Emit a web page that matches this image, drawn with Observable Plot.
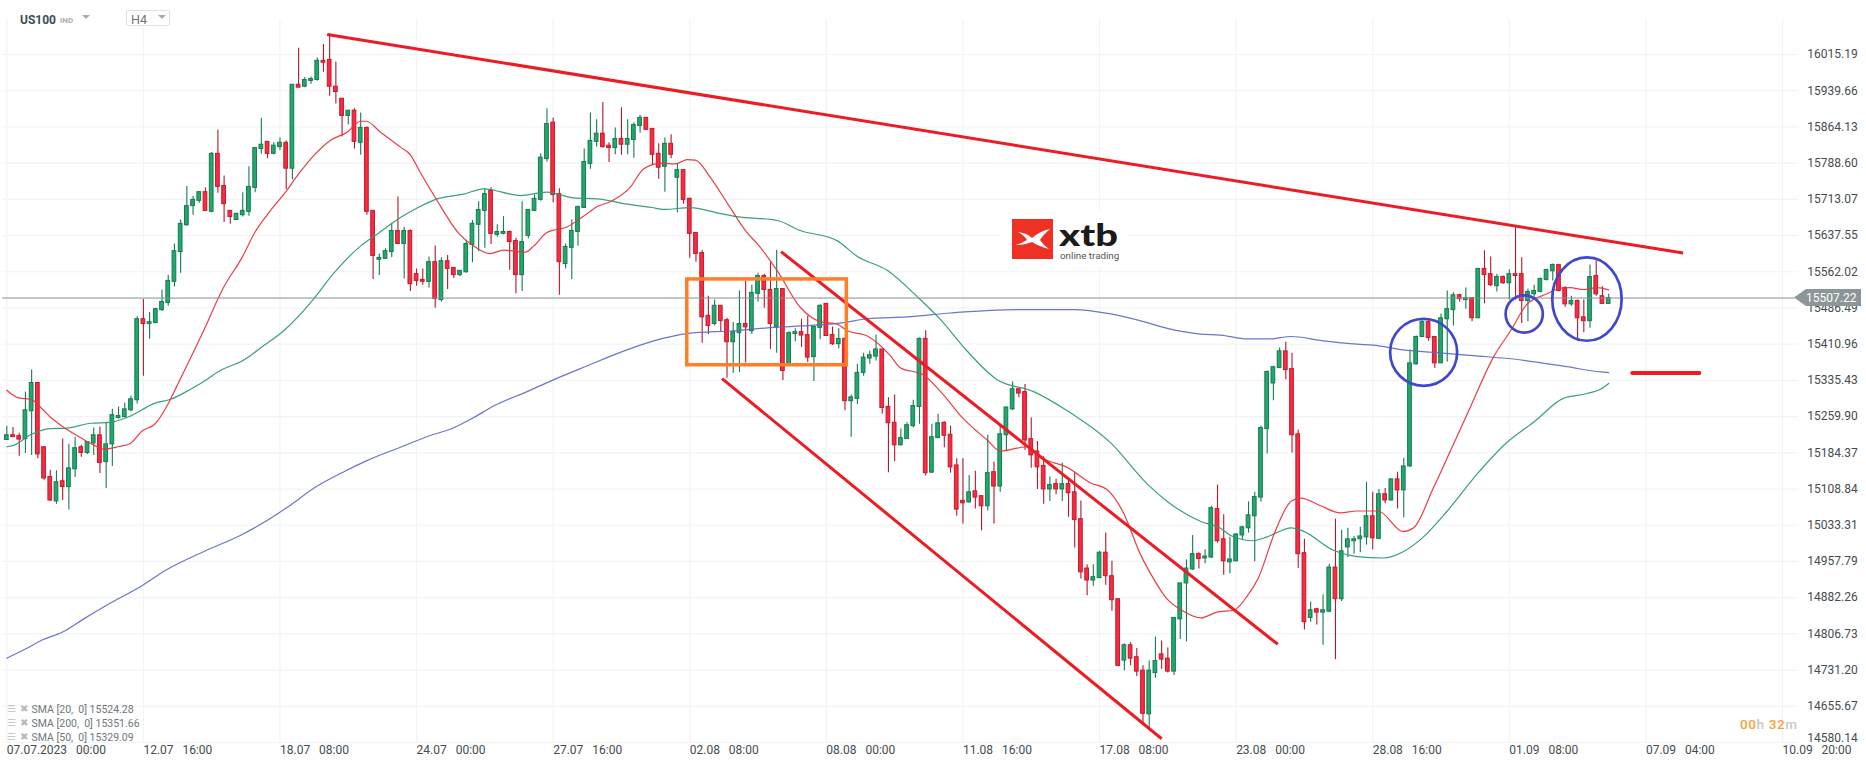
<!DOCTYPE html>
<html><head><meta charset="utf-8">
<script src="https://cdn.jsdelivr.net/npm/d3@7"></script>
<script src="https://cdn.jsdelivr.net/npm/@observablehq/plot@0.6"></script>
<style>html,body{margin:0;padding:0;background:#fff;overflow:hidden}svg{display:block}</style>
</head><body><div id="chart"></div>
<script>
const open=[15211,15221,15219,15213,15271,15330,15196,15134,15083,15125,
15113,15150,15196,15184,15204,15221,15165,15202,15257,15259,
15273,15294,15463,15453,15455,15482,15497,15541,15603,15659,
15699,15710,15728,15687,15808,15741,15689,15670,15680,15687,
15737,15818,15833,15808,15822,15831,15777,15952,15948,15960,
15962,16002,16004,15948,15923,15887,15898,15831,15862,15689,
15587,15589,15603,15647,15620,15647,15557,15545,15541,15582,
15503,15584,15570,15555,15561,15618,15660,15689,15731,15639,
15641,15645,15626,15555,15637,15689,15712,15797,15873,15724,
15578,15612,15645,15695,15787,15833,15850,15825,15820,15839,
15827,15837,15866,15883,15860,15808,15781,15829,15758,15774,
15714,15643,15601,15470,15453,15491,15461,15415,15434,15453,
15438,15516,15553,15524,15447,15526,15368,15432,15436,15430,
15384,15445,15495,15430,15411,15422,15292,15297,15351,15381,
15385,15400,15280,15247,15200,15213,15240,15280,15422,15143,
15215,15247,15222,15158,15084,15081,15104,15094,15073,15144,
15114,15221,15275,15317,15311,15213,15187,15157,15108,15119,
15108,15119,15102,15046,14943,14918,14923,14976,14927,14879,
14751,14783,14758,14730,14639,14725,14764,14755,14728,14837,
14912,14941,14973,14964,14966,15067,15004,14956,14958,15012,
15027,15052,15091,15234,15329,15361,15396,15359,15223,14975,
14840,14858,14851,14853,14945,14879,14987,15000,15004,15008,
15052,15005,15098,15085,15129,15106,15156,15369,15426,15457,
15426,15371,15463,15482,15513,15503,15507,15465,15568,15557,
15532,15551,15538,15557,15557,15501,15515,15520,15545,15563,
15576,15528,15494,15501,15467,15459,15553,15511,15495];
const close=[15221,15217,15212,15273,15330,15181,15131,15085,15123,15113,
15152,15194,15184,15207,15221,15163,15202,15263,15261,15275,
15296,15463,15453,15457,15484,15499,15543,15605,15662,15699,
15712,15728,15689,15808,15739,15703,15676,15683,15689,15739,
15820,15827,15808,15825,15831,15777,15952,15946,15962,15964,
16002,15998,15948,15937,15887,15898,15833,15862,15687,15595,
15591,15605,15647,15620,15647,15536,15543,15541,15582,15505,
15584,15568,15555,15564,15620,15662,15691,15724,15641,15645,
15645,15624,15555,15624,15691,15714,15800,15870,15722,15582,
15614,15647,15697,15791,15835,15850,15822,15820,15839,15827,
15839,15868,15883,15858,15806,15779,15829,15806,15774,15712,
15641,15599,15467,15449,15491,15459,15415,15436,15453,15446,
15518,15553,15524,15453,15526,15355,15434,15436,15429,15383,
15447,15491,15428,15411,15422,15292,15300,15351,15383,15388,
15400,15278,15246,15200,15215,15242,15282,15422,15142,15217,
15246,15220,15154,15066,15079,15102,15091,15073,15142,15114,
15223,15279,15317,15308,15210,15179,15154,15108,15117,15108,
15119,15100,15044,14935,14918,14925,14976,14927,14877,14740,
14783,14755,14728,14640,14730,14750,14753,14728,14840,14912,
14943,14973,14963,14968,15069,15000,14958,14962,15014,15029,
15054,15092,15236,15353,15363,15396,15357,15221,14973,14831,
14856,14851,14856,14945,14879,14979,15004,15004,15010,15052,
15006,15098,15085,15129,15106,15156,15371,15426,15457,15424,
15371,15465,15484,15513,15505,15507,15465,15568,15555,15534,
15551,15538,15557,15553,15501,15520,15522,15547,15566,15576,
15522,15494,15501,15465,15459,15551,15515,15495,15507.22];
const high=[15240,15237,15225,15311,15357,15330,15196,15148,15147,15213,
15202,15217,15200,15208,15236,15238,15248,15275,15280,15288,
15303,15468,15504,15477,15486,15524,15555,15620,15670,15740,
15719,15729,15737,15811,15857,15762,15689,15683,15727,15781,
15820,15882,15833,15831,15841,15835,15952,16028,15967,15968,
16008,16036,16058,15999,15923,15898,15902,15893,15864,15689,
15599,15610,15663,15718,15655,15649,15568,15568,15593,15616,
15591,15596,15570,15564,15628,15669,15708,15735,15737,15660,
15677,15647,15632,15708,15691,15722,15808,15902,15883,15735,
15620,15670,15699,15818,15893,15879,15915,15831,15862,15904,
15879,15873,15888,15883,15860,15829,15841,15848,15787,15774,
15716,15643,15607,15511,15503,15491,15465,15456,15522,15543,
15534,15559,15557,15581,15607,15526,15437,15443,15463,15470,
15447,15493,15495,15447,15443,15425,15305,15369,15392,15397,
15430,15400,15299,15305,15234,15247,15294,15424,15439,15244,
15265,15249,15240,15172,15172,15137,15146,15094,15221,15165,
15240,15279,15332,15317,15327,15257,15208,15176,15134,15129,
15163,15129,15142,15084,14951,14951,14979,15017,14958,14879,
14786,14788,14776,14740,14750,14800,14792,14777,14841,14912,
14961,15012,14976,14982,15073,15117,15055,15008,15016,15031,
15082,15102,15240,15355,15365,15403,15415,15392,15232,15004,
14873,14860,14888,14952,15046,15023,15027,15010,15029,15123,
15102,15108,15110,15129,15144,15173,15399,15428,15460,15461,
15426,15474,15522,15518,15515,15528,15507,15568,15606,15593,
15557,15553,15566,15656,15591,15526,15534,15549,15566,15578,
15576,15531,15511,15503,15503,15576,15584,15531,15515];
const low=[15211,15217,15177,15183,15179,15172,15127,15083,15077,15085,
15065,15133,15175,15181,15179,15141,15110,15156,15255,15257,
15270,15286,15344,15421,15454,15479,15490,15530,15559,15657,
15680,15705,15689,15685,15726,15665,15661,15669,15676,15678,
15727,15807,15798,15806,15815,15733,15754,15946,15946,15953,
15960,15978,15928,15912,15843,15868,15818,15805,15680,15546,
15554,15588,15592,15620,15547,15521,15532,15534,15528,15486,
15499,15525,15548,15552,15559,15581,15604,15611,15619,15634,
15639,15565,15516,15521,15631,15688,15709,15791,15706,15513,
15568,15546,15615,15694,15776,15822,15820,15790,15806,15805,
15806,15799,15851,15857,15785,15755,15728,15798,15685,15703,
15590,15582,15413,15431,15449,15436,15340,15350,15352,15372,
15431,15499,15486,15400,15392,15335,15366,15416,15404,15373,
15333,15420,15427,15408,15401,15272,15217,15285,15344,15369,
15376,15265,15143,15166,15199,15212,15236,15244,15136,15142,
15214,15195,15142,15052,15036,15079,15067,15022,15063,15036,
15102,15188,15272,15299,15189,15152,15108,15077,15083,15097,
15083,15050,14986,14921,14886,14906,14922,14908,14854,14738,
14730,14740,14718,14618,14611,14714,14733,14725,14720,14795,
14790,14939,14942,14953,14964,14996,14929,14932,14957,15002,
15017,14957,15081,15182,15293,15360,15337,15184,14943,14815,
14831,14825,14783,14851,14753,14874,14966,14973,14976,14992,
14982,15003,15078,15084,15067,15049,15154,15367,15425,15417,
15360,15371,15374,15449,15499,15484,15458,15465,15495,15531,
15520,15536,15503,15503,15454,15458,15509,15518,15543,15543,
15520,15488,15490,15417,15435,15444,15511,15494,15494];

const sma20At=[0,1.9,3.9,5.4,7,8.9,11.9,13.8,15.6,17.9,19.9,21.8,23.9,25.8,27.4,31.7,34.9,37.9,39.9,42.5,44.9,47,49.7,52.1,54.8,57,57.9,60.2,63.4,65,66.6,69,72.8,75.5,77.8,80,83.5,84.9,87,90.3,92.7,95.1,97.5,100.4,102.6,105.3,107.7,109.6,110.9,113.3,116.3,119.2,120.9,124.1,127.8,131,133.7,135.4,138.6,142.3,143.9,147.6,150.4,154.1,157.9,160,164.3,167,170.8,174.5,177.2,179.9,182.6,184.2,186.9,189.5,192.3,194.9,197.6,199.8,201.6,204.3,206.9,208.4,211.6,214.8,217.5,220.9,224.9,226.6,229.8,232.5,235.7,239.4,242.2,244.9,248.1,250.2,251.8,253.9,256.1,258];
const sma20=[15315,15299,15296,15280,15259,15240,15216,15202,15192,15197,15204,15230,15245,15282,15324,15439,15529,15592,15643,15690,15728,15766,15808,15836,15853,15876,15876,15853,15822,15806,15769,15717,15642,15613,15600,15607,15603,15616,15644,15656,15676,15698,15710,15738,15777,15788,15787,15796,15795,15759,15700,15644,15620,15564,15488,15458,15453,15439,15428,15387,15362,15347,15312,15255,15211,15188,15197,15172,15154,15122,15108,15058,14972,14933,14879,14854,14840,14852,14856,14886,14924,15021,15084,15090,15074,15059,15063,15063,15020,15028,15112,15188,15279,15383,15439,15495,15516,15528,15529,15525,15529,15524.28];
const sma50At=[0,1.1,3.8,7,9.7,13.5,16.7,19.9,23.7,26.4,29.6,31.2,34.7,37.9,41.4,44.6,49.2,52.6,57,59.7,63.4,66.1,69.3,73.6,76.8,82.7,87,91.3,95.1,99.9,103.9,105.8,110.1,114.4,117.6,124.1,127.8,133.7,137,141.8,146.8,150.4,154.1,159.5,165.4,170.8,177.8,183.7,186.9,192.3,195.5,197.1,200.8,203,206.9,208.8,213.7,217.5,221.7,224.9,228,232,236.8,241.6,245.9,250.7,254.5,256.7,258];
const sma50=[15197,15200,15222,15235,15236,15246,15248,15261,15287,15296,15317,15329,15358,15376,15408,15439,15502,15558,15616,15641,15675,15695,15714,15724,15735,15721,15728,15716,15714,15703,15696,15692,15696,15685,15677,15669,15648,15627,15594,15565,15508,15462,15405,15337,15312,15272,15205,15119,15083,15041,15027,15012,15001,15009,15028,15021,14981,14968,14965,14978,15007,15063,15140,15206,15248,15298,15308,15317,15329.09];
const sma200At=[0,3,5.7,8.9,12.4,16.7,21.5,25.8,32,37.6,41.9,45.2,50,54.3,58,63.4,68.8,71.5,75.2,78.4,83.8,88.1,93.5,98.8,104.2,109.6,117.1,122.5,127.8,134.8,138.6,145,152,162.7,171.8,177.8,183.1,186.9,192.3,195.5,199.8,203.5,206.8,212,217.5,220.1,224.9,229.8,236.2,242.7,251.3,256.7,258];
const sma200=[14756,14775,14794,14810,14838,14871,14905,14941,14980,15012,15043,15071,15115,15145,15168,15196,15223,15234,15258,15282,15312,15337,15366,15394,15418,15433,15439,15445,15449,15456,15464,15468,15476,15483,15483,15474,15458,15444,15432,15430,15422,15422,15427,15418,15411,15409,15399,15394,15387,15380,15364,15353,15351.66];

const yTicks=[16015.19,15939.66,15864.13,15788.60,15713.07,15637.55,15562.02,15486.49,15410.96,15335.43,15259.90,15184.37,15108.84,15033.31,14957.79,14882.26,14806.73,14731.20,14655.67];
const yBottom=14580.14;
const xTickAt=[0,22,44,66,88,110,132,154,176,198,220,242,264,286];
const xTickLabels=["07.07.2023   00:00","12.07   16:00","18.07   08:00","24.07   00:00","27.07   16:00","02.08   08:00","08.08   00:00","11.08   16:00","17.08   08:00","23.08   00:00","28.08   16:00","01.09   08:00","07.09   04:00","10.09   20:00"].map(s=>s.replace(/ /g,"\u00a0"));
const lastPrice=15507.22;
const legendLabels=["SMA [20,  0] 15524.28","SMA [200,  0] 15351.66","SMA [50,  0] 15329.09"].map(s=>s.replace(/ /g,"\u00a0"));

const trendLines=[
  {x:[51.6,270],y:[16057,15601]},
  {x:[124.7,204.7],y:[15604,14785]},
  {x:[115.2,186],y:[15339,14588]}
];
const supportX=[261.8,272.6], supportY=[15351,15351];
const boxX=[109.6,135.3], boxY=[15546,15367];
const rings=[{x:228.2,y:15394,r:33.5},{x:244.4,y:15474,r:18.6}];
const oval=[{x:254.5,y:15505}];

const idx=d3.range(open.length);
const up=idx.filter(i=>close[i]>=open[i]);
const dn=idx.filter(i=>close[i]<open[i]);
const GU="#22a76d",GUS="#157b50",RD="#fa2a3f",RDS="#c31a2f";
const GRID="#f2f3f4", FONT="Roboto", TXT="#444c50";
const half=0.3;

const ovalSymbol={draw(ctx,size){const rx=Math.sqrt(size/Math.PI),ry=rx*1.2,k=0.5523;
  ctx.moveTo(rx,0);
  ctx.bezierCurveTo(rx,k*ry,k*rx,ry,0,ry);
  ctx.bezierCurveTo(-k*rx,ry,-rx,k*ry,-rx,0);
  ctx.bezierCurveTo(-rx,-k*ry,-k*rx,-ry,0,-ry);
  ctx.bezierCurveTo(k*rx,-ry,rx,-k*ry,rx,0);
  ctx.closePath();}};

function logoMark(){
  const g=d3.create("svg:g").attr("text-anchor","start");
  g.append("rect").attr("x",999).attr("y",210).attr("width",129).attr("height",57).attr("fill","#fff");
  g.append("rect").attr("x",1012).attr("y",219).attr("width",41).attr("height",40).attr("fill","#ee3124");
  g.append("path").attr("fill","#fff").attr("d","M1018 232 Q1027 233 1032 238 Q1040 231 1050 229 Q1042 236 1040 240 Q1044 246 1049 249 Q1038 246 1032 242 Q1025 245 1016 245 Q1022 243 1027 240 Q1024 235 1018 232 Z");
  g.append("text").attr("x",1059).attr("y",246).attr("font-family","Lato").attr("font-weight",900).attr("font-size",31).attr("fill","#1b1b1b").attr("textLength",59).attr("lengthAdjust","spacingAndGlyphs").text("xtb");
  g.append("text").attr("x",1060).attr("y",259).attr("font-family",FONT).attr("font-size",9.8).attr("fill","#555").text("online trading");
  return g.node();
}
function headerMark(){
  const g=d3.create("svg:g").attr("text-anchor","start");
  g.append("text").attr("x",20).attr("y",23.5).attr("font-family",FONT).attr("font-weight",700).attr("font-size",12).attr("fill","#3e4c54").text("US100");
  g.append("text").attr("x",60).attr("y",23).attr("font-family",FONT).attr("font-weight",700).attr("font-size",8).attr("fill","#aab0b4").text("IND");
  g.append("path").attr("d","M82 15 L90 15 L86 19 Z").attr("fill","#a5abaf");
  g.append("rect").attr("x",126.5).attr("y",10.5).attr("width",43).attr("height",15).attr("rx",2).attr("fill","#fff").attr("stroke","#dfe2e4");
  g.append("text").attr("x",131).attr("y",24).attr("font-family",FONT).attr("font-size",12.5).attr("fill","#6b7479").text("H4");
  g.append("path").attr("d","M158 15 L166 15 L162 19 Z").attr("fill","#a5abaf");
  return g.node();
}
function timerMark(){
  const t=d3.create("svg:text").attr("text-anchor","start").attr("x",1740).attr("y",729).attr("font-family",FONT).attr("font-weight",500).attr("font-size",13.5).attr("textLength",57);
  [["00","#f5a33a"],["h","#c4c8ca"],[" 32","#f5a33a"],["m","#c4c8ca"]].forEach(([s,c])=>t.append("tspan").attr("fill",c).text(s.replace(" ","\u00a0")));
  return t.node();
}
function tagMark(index,scales){
  const y=scales.y(lastPrice), g=d3.create("svg:g").attr("text-anchor","start");
  g.append("path").attr("fill","#8a9698").attr("d",`M1794 ${y} L1806 ${y-8.5} L1861 ${y-8.5} L1861 ${y+8.5} L1806 ${y+8.5} Z`);
  g.append("text").attr("x",1806).attr("y",y+4.5).attr("font-family",FONT).attr("font-size",12).attr("fill","#fff").text("15507.22");
  return g.node();
}
const legendRows=[0,1,2];
const place=(x,y0)=>(index,scales,values,dims,ctx,next)=>{const g=next(index,scales,values,dims,ctx);
  d3.select(g).selectAll("text").attr("transform",(d,j)=>`translate(${x},${y0+j*14})`);return g;};
const chart=Plot.plot({
  width:1866,height:767,margin:0,style:{background:"#fff",fontFamily:FONT},
  x:{domain:[0,286],range:[6.3,1782],axis:null},
  y:{domain:[yTicks[0],yBottom],range:[54,742],axis:null},
  marks:[
    Plot.ruleY([...yTicks,yBottom],{x1:-0.65,x2:288.6,stroke:GRID,strokeWidth:1.2}),
    Plot.ruleX(xTickAt,{y1:16088,y2:yBottom,stroke:GRID,strokeWidth:1.2}),
    logoMark, headerMark,
    Plot.ruleX(up,{x:i=>i,y1:i=>low[i],y2:i=>high[i],stroke:GUS,strokeWidth:1.1}),
    Plot.ruleX(dn,{x:i=>i,y1:i=>low[i],y2:i=>high[i],stroke:"#b3172b",strokeWidth:1.1}),
    Plot.rect(up,{x1:i=>i-half,x2:i=>i+half,y1:i=>open[i],y2:i=>close[i],fill:GU,stroke:GUS,strokeWidth:1}),
    Plot.rect(dn,{x1:i=>i-half,x2:i=>i+half,y1:i=>open[i],y2:i=>close[i],fill:RD,stroke:RDS,strokeWidth:1}),
    Plot.line(sma200,{x:sma200At,y:sma200,curve:"monotone-x",stroke:"#5a66c8",strokeWidth:1.2,strokeOpacity:.9}),
    Plot.line(sma50,{x:sma50At,y:sma50,curve:"monotone-x",stroke:"#2f9a75",strokeWidth:1.2,strokeOpacity:.95}),
    Plot.line(sma20,{x:sma20At,y:sma20,curve:"monotone-x",stroke:"#e8343c",strokeWidth:1.2,strokeOpacity:.95}),
    Plot.ruleY([lastPrice],{x1:-0.65,x2:288,stroke:"#84908f",strokeWidth:1}),
    ...trendLines.map(t=>Plot.line(t.y,{x:t.x,y:t.y,stroke:"#ed1c24",strokeWidth:3,strokeLinecap:"butt"})),
    Plot.line(supportY,{x:supportX,y:supportY,stroke:"#ed1c24",strokeWidth:4,strokeLinecap:"round"}),
    Plot.rect([0],{x1:boxX[0],x2:boxX[1],y1:boxY[0],y2:boxY[1],fill:"none",stroke:"#ff7f27",strokeWidth:3.5}),
    ...rings.map(d=>Plot.dot([d],{x:"x",y:"y",r:d.r,stroke:"#3f48cc",strokeWidth:2.7})),
    Plot.dot(oval,{x:"x",y:"y",r:34.7,symbol:ovalSymbol,stroke:"#3f48cc",strokeWidth:2.7}),
    Plot.text(yTicks,{x:()=>290,y:d=>d,text:d=>d.toFixed(2),textAnchor:"start",fontSize:12,fill:TXT}),
    Plot.text([yBottom],{x:()=>290,y:d=>d,dy:-4,text:d=>d.toFixed(2),textAnchor:"start",fontSize:12,fill:TXT}),
    Plot.text(xTickLabels,{x:(d,i)=>xTickAt[i],frameAnchor:"bottom",dy:-13.5,text:d=>d,textAnchor:"start",fontSize:12,fill:TXT}),
    Plot.text(legendRows,{frameAnchor:"top-left",lineAnchor:"middle",text:i=>legendLabels[i],fontSize:10.5,fill:"#6f777b",textAnchor:"start",render:place(31,709)}),
    Plot.text(legendRows,{frameAnchor:"top-left",lineAnchor:"middle",textAnchor:"start",text:()=>"\u2716",fontSize:9.5,fill:"#b5babd",render:place(19.5,708.5)}),
    Plot.text(legendRows,{frameAnchor:"top-left",lineAnchor:"middle",textAnchor:"start",text:()=>"\u2630",fontSize:10,fill:"#c5c9cb",render:place(6.5,708)}),
    tagMark, timerMark
  ]
});
document.getElementById("chart").append(chart);
</script></body></html>
